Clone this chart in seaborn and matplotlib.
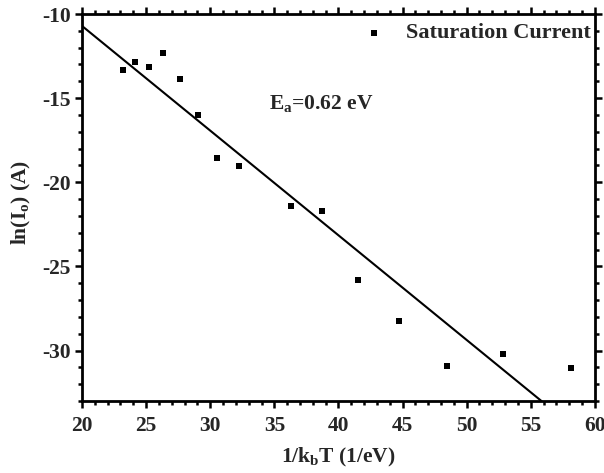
import numpy as np
import pandas as pd
import matplotlib
matplotlib.use("Agg")
import matplotlib.pyplot as plt
from matplotlib.ticker import MultipleLocator
import seaborn as sns

# data
inv_kT = [23.18, 24.17, 25.20, 26.35, 27.63, 29.04, 30.55, 32.24, 36.30,
          38.75, 41.51, 44.71, 48.44, 52.84, 58.15]
ln_I0 = [-13.33, -12.86, -13.15, -12.32, -13.89, -16.00, -18.53, -19.03,
         -21.43, -21.69, -25.81, -28.27, -30.91, -30.20, -31.03]
fit_slope = -0.622
fit_intercept = 1.73
fit_x_range = [20, 60]

sns.set_theme(style="ticks")
plt.rcParams['font.family'] = ['Liberation Serif', 'DejaVu Serif']
plt.rcParams['font.weight'] = 'bold'
plt.rcParams['axes.unicode_minus'] = False
plt.rcParams['mathtext.fontset'] = 'custom'
plt.rcParams['mathtext.rm'] = 'Liberation Serif:bold'
plt.rcParams['mathtext.it'] = 'Liberation Serif:bold'
plt.rcParams['mathtext.bf'] = 'Liberation Serif:bold'

FS = 15.5

df = pd.DataFrame({"x": inv_kT, "y": ln_I0})
fx = np.array(fit_x_range, dtype=float)
fit_df = pd.DataFrame({"x": fx, "y": fit_slope * fx + fit_intercept})

fig = plt.figure(figsize=(6.04, 4.73), dpi=100)
ax = fig.add_axes([0.1358, 0.1522, 0.849, 0.8182])

sns.lineplot(data=fit_df, x="x", y="y", ax=ax, color="black", linewidth=1.5)
sns.scatterplot(data=df, x="x", y="y", ax=ax, marker="s", color="black",
                s=24, edgecolor="black", linewidth=0, label="Saturation Current")

ax.set_xlim(20, 60)
ax.set_ylim(-33, -10)
ax.xaxis.set_major_locator(MultipleLocator(5))
ax.xaxis.set_minor_locator(MultipleLocator(1))
ax.yaxis.set_major_locator(MultipleLocator(5))
ax.yaxis.set_minor_locator(MultipleLocator(1))
ax.tick_params(which="both", direction="out", top=True, right=True,
               labeltop=False, labelright=False, width=1.8, color="black")
ax.tick_params(which="major", length=5, labelsize=FS)
ax.tick_params(axis="x", which="major", pad=6)
ax.tick_params(axis="y", which="major", pad=3)
ax.tick_params(which="minor", length=3)
for lab in ax.get_xticklabels() + ax.get_yticklabels():
    lab.set_fontweight("bold")
for sp in ax.spines.values():
    sp.set_linewidth(2)
    sp.set_color("black")

ax.set_xlabel(r"1/k$_{\rm b}$T (1/eV)", fontsize=FS, fontweight="bold", labelpad=7)
ax.set_ylabel(r"ln(I$_{\rm o}$) (A)", fontsize=FS, fontweight="bold")
ax.yaxis.set_label_coords(-0.096, 0.514)

ax.text(34.6, -15.3, r"E$_{\rm a}$=0.62 eV", fontsize=FS, fontweight="bold",
        va="center", ha="left")

leg = ax.legend(loc="upper right", frameon=False, fontsize=16,
                handletextpad=0.45, borderaxespad=0.0, markerscale=0.8,
                bbox_to_anchor=(1.01, 1.0))
for t in leg.get_texts():
    t.set_fontweight("bold")

fig.savefig("out.png", dpi=100)
